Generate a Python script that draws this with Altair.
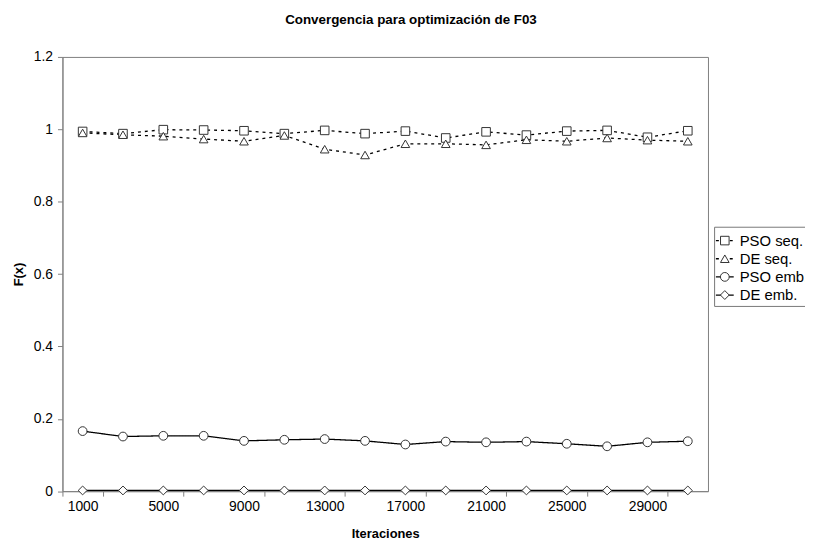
import altair as alt
import pandas as pd

iters = [1000, 3000, 5000, 7000, 9000, 11000, 13000, 15000,
         17000, 19000, 21000, 23000, 25000, 27000, 29000, 31000]
label_iters = [1000, 5000, 9000, 13000, 17000, 21000, 25000, 29000]
series = ["PSO seq.", "DE seq.", "PSO emb.", "DE emb."]

pso_seq = [0.994, 0.988, 0.999, 0.998, 0.996, 0.988, 0.997, 0.988,
           0.995, 0.976, 0.993, 0.984, 0.995, 0.997, 0.978, 0.996]
de_seq = [0.990, 0.985, 0.981, 0.973, 0.967, 0.983, 0.945, 0.929,
          0.960, 0.960, 0.957, 0.971, 0.967, 0.976, 0.970, 0.967]
pso_emb = [0.166, 0.151, 0.153, 0.153, 0.139, 0.142, 0.144, 0.139,
           0.129, 0.137, 0.135, 0.137, 0.131, 0.124, 0.135, 0.138]
de_emb = [0.002, 0.002, 0.002, 0.002, 0.002, 0.002, 0.002, 0.002,
          0.002, 0.002, 0.002, 0.002, 0.002, 0.002, 0.002, 0.002]

rows = []
for name, vals in zip(series, [pso_seq, de_seq, pso_emb, de_emb]):
    for it, v in zip(iters, vals):
        rows.append({"iter": it, "series": name, "value": v})
df = pd.DataFrame(rows)
legend_df = pd.DataFrame({"series": series, "row": [0, 1, 2, 3]})

FONT = "Liberation Sans"
dash_scale = alt.Scale(domain=series, range=[[3, 4], [3, 4], [1, 0], [1, 0]])
shape_scale = alt.Scale(domain=series, range=["square", "triangle-up", "circle", "diamond"])
size_scale = alt.Scale(domain=series, range=[75, 80, 85, 50])

x_enc = alt.X("iter:O", sort=iters,
              scale=alt.Scale(type="band", paddingInner=0, paddingOuter=0),
              axis=alt.Axis(values=label_iters, labelAngle=0, title="Iteraciones",
                            tickBand="extent", tickSize=5, labelPadding=4,
                            titlePadding=14))
y_enc = alt.Y("value:Q", scale=alt.Scale(domain=[0, 1.2], nice=False, zero=True),
              axis=alt.Axis(values=[0, 0.2, 0.4, 0.6, 0.8, 1.0, 1.2], format=".1~f",
                            title="F(x)", grid=False, tickSize=5, labelPadding=5,
                            titlePadding=8))

base = alt.Chart(df)
lines = base.mark_line(color="black", strokeWidth=1.3).encode(
    x=x_enc, y=y_enc,
    strokeDash=alt.StrokeDash("series:N", scale=dash_scale, legend=None),
    detail="series:N",
)
points = base.mark_point(filled=True, fill="white", stroke="#333", strokeWidth=1,
                         opacity=1, fillOpacity=1).encode(
    x=x_enc, y=y_enc,
    shape=alt.Shape("series:N", scale=shape_scale, legend=None),
    size=alt.Size("series:N", scale=size_scale, legend=None),
)
main = alt.layer(lines, points)

ly = alt.Y("row:O", scale=alt.Scale(type="point", domain=[0, 1, 2, 3],
                                    range=[185.5, 240.5], padding=0), axis=None)
box = alt.Chart(pd.DataFrame({"a": [0]})).mark_rect(
    fill="white", stroke="#777", strokeWidth=1).encode(
    x=alt.value(658.7), x2=alt.value(775), y=alt.value(172), y2=alt.value(252))
lrule = alt.Chart(legend_df).mark_rule(color="black", strokeWidth=1.3).encode(
    x=alt.value(660), x2=alt.value(678), y=ly,
    strokeDash=alt.StrokeDash("series:N", scale=dash_scale, legend=None))
lpts = alt.Chart(legend_df).mark_point(filled=True, fill="white", stroke="#333",
                                       strokeWidth=1, opacity=1, fillOpacity=1).encode(
    x=alt.value(669), y=ly,
    shape=alt.Shape("series:N", scale=shape_scale, legend=None),
    size=alt.Size("series:N", scale=size_scale, legend=None))
ltext = alt.Chart(legend_df).mark_text(align="left", baseline="middle", fontSize=15,
                                       font=FONT, color="black").encode(
    x=alt.value(684), y=ly, text="series:N")
legend = alt.layer(box, lrule, lpts, ltext)

chart = alt.layer(main, legend).resolve_scale(y="independent").properties(
    width=652, height=438.6,
    title=alt.TitleParams("Convergencia para optimización de F03", fontSize=13.5,
                          fontWeight="bold", font=FONT, anchor="middle", dx=26,
                          offset=24, color="black"),
    autosize=alt.AutoSizeParams(type="none"),
    padding={"left": 55, "top": 46.7, "right": 98, "bottom": 56.7},
).configure_view(stroke="#808080", strokeWidth=1).configure_axis(
    domainColor="#808080", tickColor="#808080", labelColor="black",
    labelFont=FONT, labelFontSize=14, titleFont=FONT, titleFontSize=13,
    titleFontWeight="bold", titleColor="black",
)

chart.save("out.html", embed_options={"renderer": "svg", "actions": False})
